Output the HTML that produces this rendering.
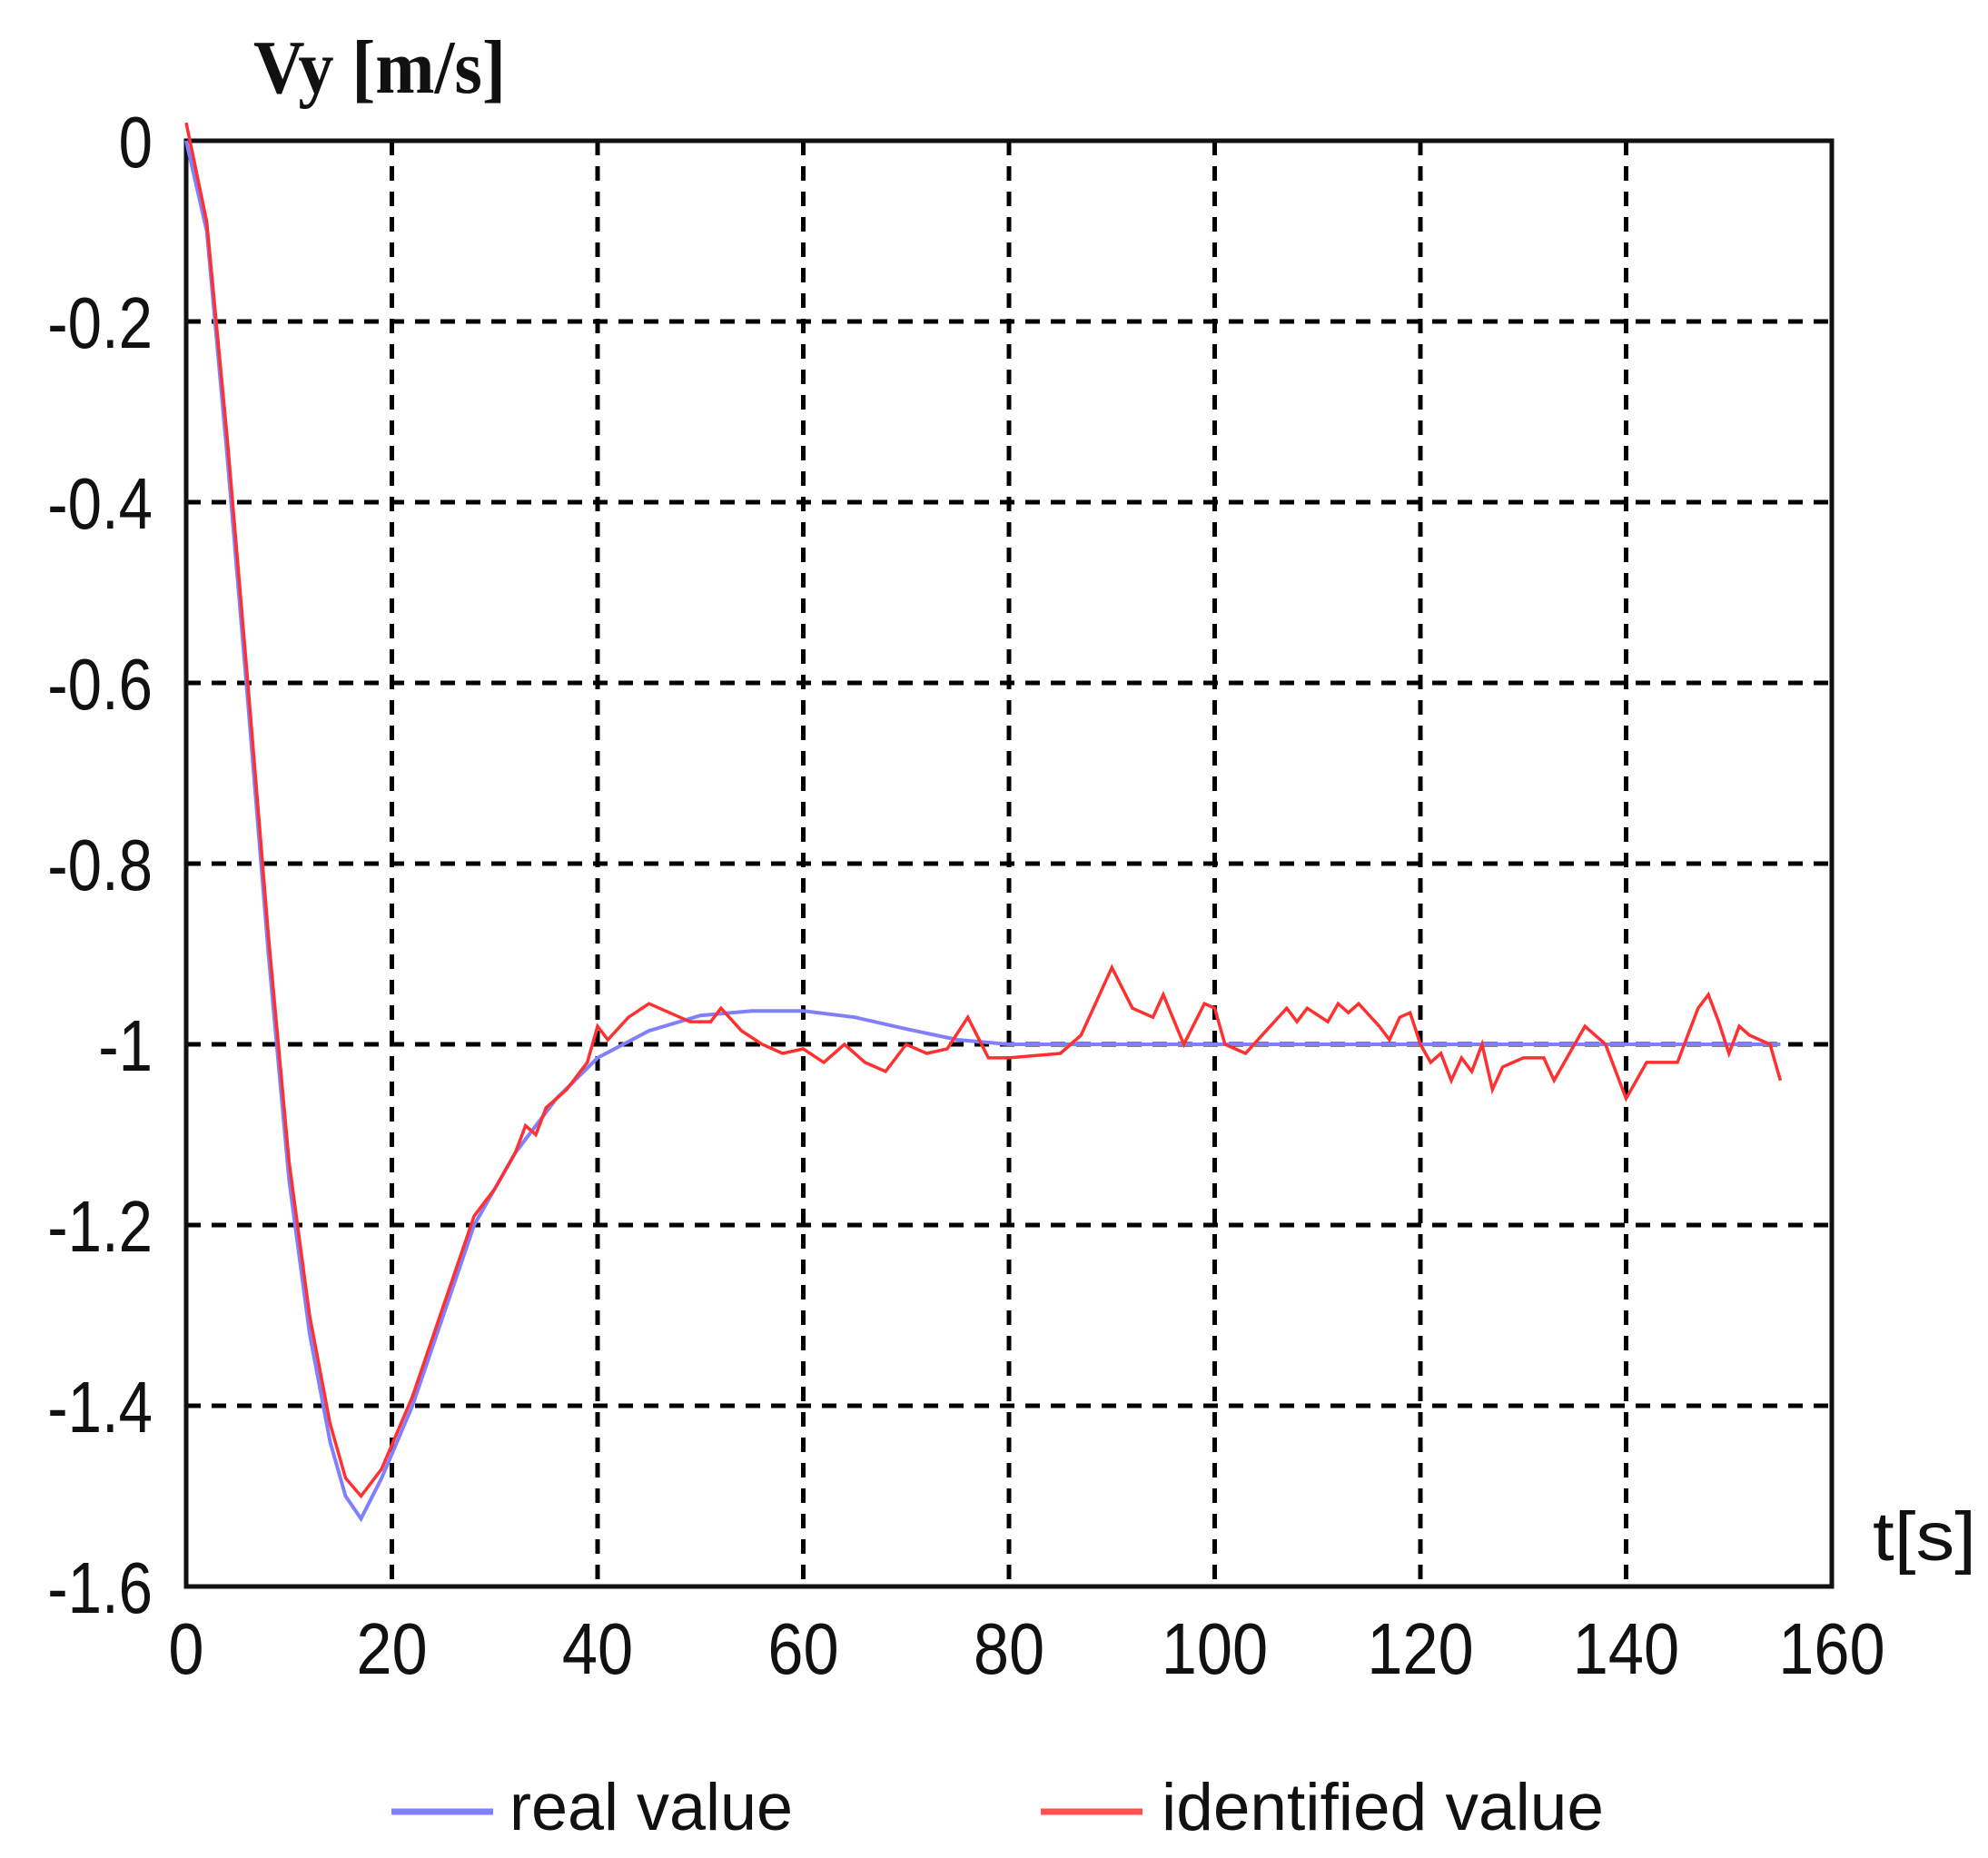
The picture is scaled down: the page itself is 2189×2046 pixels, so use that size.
<!DOCTYPE html>
<html><head><meta charset="utf-8"><style>
html,body{margin:0;padding:0;background:#fff}
svg{display:block}
.tk{font-family:"Liberation Sans",sans-serif;font-size:80px;fill:#111}
</style></head><body>
<svg id="s" width="2189" height="2046" viewBox="0 0 2189 2046" xmlns="http://www.w3.org/2000/svg">
<rect width="2189" height="2046" fill="#fff"/>
<g id="grid" stroke="#000" stroke-width="5" stroke-dasharray="16,12"></g>
<rect x="205" y="155" width="1812" height="1592" fill="none" stroke="#111" stroke-width="5"/>
<g id="labels"></g>
<path id="blue" fill="none" stroke="#8080ff" stroke-width="4"/>
<path id="red" fill="none" stroke="#ff3030" stroke-width="3.5"/>
<text x="279" y="102" font-family="Liberation Serif,serif" font-size="84" font-weight="bold" fill="#111" textLength="278" lengthAdjust="spacingAndGlyphs">Vy [m/s]</text>
<text x="2062" y="1718" font-family="Liberation Sans,sans-serif" font-size="76" fill="#111" textLength="114" lengthAdjust="spacingAndGlyphs">t[s]</text>
<line x1="431" y1="1995" x2="543" y2="1995" stroke="#8080ff" stroke-width="7"/>
<text x="561" y="2015" font-family="Liberation Sans,sans-serif" font-size="73" fill="#111" textLength="312" lengthAdjust="spacingAndGlyphs">real value</text>
<line x1="1146" y1="1995" x2="1258" y2="1995" stroke="#ff5050" stroke-width="7"/>
<text x="1279" y="2015" font-family="Liberation Sans,sans-serif" font-size="73" fill="#111" textLength="487" lengthAdjust="spacingAndGlyphs">identified value</text>
</svg>
<script>
var X0=205,XS=1812/160,Y0=155,YS=1592/1.6;
function px(t){return X0+t*XS}function py(v){return Y0-v*YS}
var g=document.getElementById('grid'),lb=document.getElementById('labels'),NS='http://www.w3.org/2000/svg';
for(var i=1;i<8;i++){var l=document.createElementNS(NS,'line');var x=px(i*20);l.setAttribute('x1',x);l.setAttribute('x2',x);l.setAttribute('y1',Y0);l.setAttribute('y2',1747);g.appendChild(l);
var h=document.createElementNS(NS,'line');var y=py(-i*0.2);h.setAttribute('x1',X0);h.setAttribute('x2',2017);h.setAttribute('y1',y);h.setAttribute('y2',y);g.appendChild(h);}
for(var i=0;i<=8;i++){var t=document.createElementNS(NS,'text');t.setAttribute('class','tk');t.setAttribute('x',px(i*20));t.setAttribute('y',1843);t.setAttribute('text-anchor','middle');t.textContent=String(i*20);t.setAttribute('transform','translate('+px(i*20)+',0) scale(0.88,1) translate('+(-px(i*20))+',0)');lb.appendChild(t);
var s=document.createElementNS(NS,'text');s.setAttribute('class','tk');s.setAttribute('x',168);s.setAttribute('y',py(-i*0.2)+29);s.setAttribute('text-anchor','end');s.textContent=i==0?'0':'-'+(i*0.2).toFixed(1).replace(/\.0$/,'');s.setAttribute('transform','translate(168,0) scale(0.84,1) translate(-168,0)');lb.appendChild(s);}
var B=[[0,0],[2,-0.1],[4,-0.35],[6,-0.62],[8,-0.9],[10,-1.15],[12,-1.32],[14,-1.44],[15.5,-1.5],[17,-1.525],[19,-1.48],[22,-1.4],[25,-1.3],[28,-1.2],[32,-1.12],[36,-1.06],[40,-1.015],[45,-0.985],[50,-0.968],[55,-0.963],[60,-0.963],[65,-0.97],[70,-0.983],[75,-0.995],[80,-1.0],[155,-1.0]];
var R=[[0,0.02],[2,-0.09],[4,-0.33],[6,-0.6],[8,-0.88],[10,-1.13],[12,-1.3],[14,-1.42],[15.5,-1.48],[17,-1.5],[19,-1.47],[22,-1.39],[25,-1.29],[28,-1.19],[30,-1.16],[32,-1.12],[33,-1.09],[34,-1.1],[35,-1.07],[37,-1.05],[39,-1.02],[40,-0.98],[41,-0.995],[43,-0.97],[45,-0.955],[47,-0.965],[49,-0.975],[51,-0.975],[52,-0.96],[54,-0.985],[56,-1.0],[58,-1.01],[60,-1.005],[62,-1.02],[64,-1.0],[66,-1.02],[68,-1.03],[70,-1.0],[72,-1.01],[74,-1.005],[76,-0.97],[78,-1.015],[80,-1.015],[85,-1.01],[87,-0.99],[90,-0.915],[92,-0.96],[94,-0.97],[95,-0.945],[97,-1.0],[99,-0.955],[100,-0.96],[101,-1.0],[103,-1.01],[105,-0.985],[107,-0.96],[108,-0.975],[109,-0.96],[111,-0.975],[112,-0.955],[113,-0.965],[114,-0.955],[116,-0.98],[117,-0.995],[118,-0.97],[119,-0.965],[120,-1.0],[121,-1.02],[122,-1.01],[123,-1.04],[124,-1.015],[125,-1.03],[126,-1.0],[127,-1.05],[128,-1.025],[130,-1.015],[132,-1.015],[133,-1.04],[134,-1.02],[136,-0.98],[138,-1.0],[140,-1.06],[142,-1.02],[145,-1.02],[146,-0.99],[147,-0.96],[148,-0.945],[149,-0.975],[150,-1.01],[151,-0.98],[152,-0.99],[154,-1.0],[155,-1.04]];
function d(P){return P.map(function(p,i){return (i?'L':'M')+px(p[0]).toFixed(1)+' '+py(p[1]).toFixed(1)}).join(' ')}
document.getElementById('blue').setAttribute('d',d(B));
document.getElementById('red').setAttribute('d',d(R));
</script>
</body></html>
